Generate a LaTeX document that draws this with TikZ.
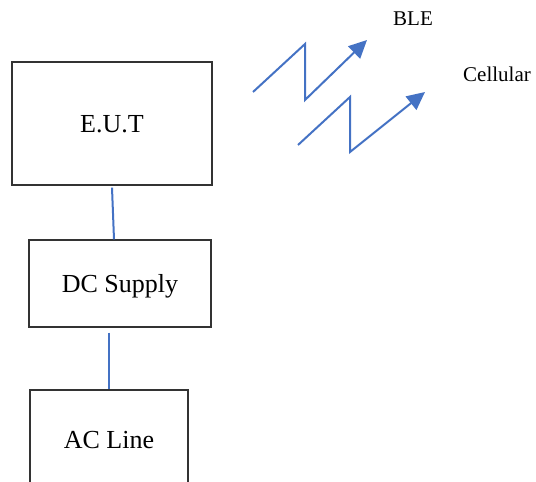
\documentclass[tikz,border=0pt]{standalone}
\usepackage{fontspec}
\setmainfont{Liberation Serif}
\usetikzlibrary{arrows.meta, positioning, calc}
\definecolor{wireblue}{RGB}{68,114,196}
\tikzset{
  blk/.style  ={draw=black!80, line width=1.2pt, inner sep=0pt,
                text depth=0pt, font=\fontsize{26}{30}\selectfont},
  wire/.style ={wireblue, line width=2pt},
  bolt/.style ={wireblue, line width=2pt,
                -{Triangle[length=18pt, width=17pt]}},
  lbl/.style  ={font=\fontsize{21}{25}\selectfont},
}
\begin{document}
\begin{tikzpicture}[x=1pt, y=-1pt]
  \useasboundingbox (0,0) rectangle (536,482);
  \clip (0,0) rectangle (536,482);
  % equipment chain
  \node[blk, minimum width=200pt, minimum height=123pt] (eut) at (112,123.5) {E.U.T};
  \node[blk, minimum width=182pt, minimum height=87pt] (dc) at (120,283.5) {DC Supply};
  \node[blk, minimum width=158pt, minimum height=100pt] (ac) at (109,440) {AC Line};
  \draw[wire] ([yshift=-2pt]eut.south) -- ([xshift=-6pt]dc.north);
  \draw[wire] ([yshift=-5pt]dc.south -| ac.north) -- (ac.north);
  % radio links
  \draw[bolt] (253,92) -- (305,44) -- (305,100) -- (367,40);
  \draw[bolt] (298,145) -- (350,97) -- (350,152) -- (425,92);
  \node[lbl] (ble) at (413,19) {BLE};
  \node[lbl] (cell) at (497,74) {Cellular};
\end{tikzpicture}
\end{document}
